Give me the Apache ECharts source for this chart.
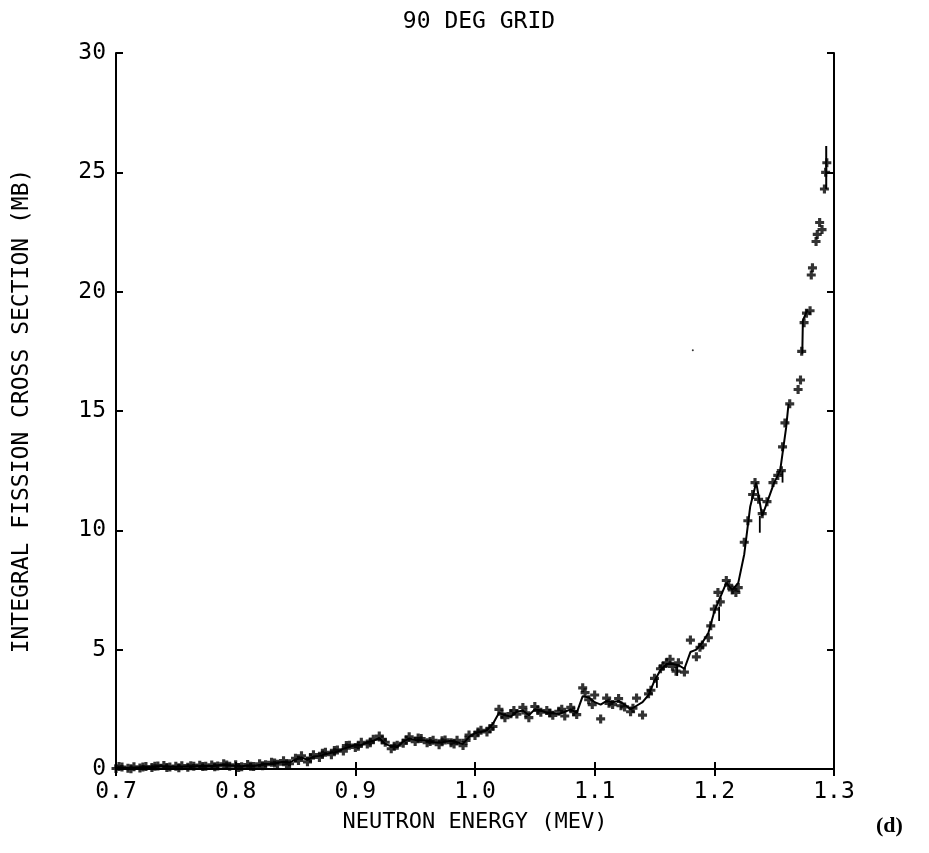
<!DOCTYPE html>
<html>
<head>
<meta charset="utf-8">
<script src="https://cdn.jsdelivr.net/npm/echarts@6/dist/echarts.min.js"></script>
<style>html,body{margin:0;padding:0;background:#fff}#c{width:929px;height:853px}</style>
</head>
<body>
<div id="c"></div>
<script>
const xTicks = ['0.7','0.8','0.9','1.0','1.1','1.2','1.3'];
const yTicks = [0,5,10,15,20,25,30];
const energies = [
0.700,0.705,0.710,0.715,0.720,0.725,0.730,0.735,0.740,0.745,
0.750,0.755,0.760,0.765,0.770,0.775,0.780,0.785,0.790,0.795,
0.800,0.805,0.810,0.815,0.820,0.825,0.830,0.835,0.840,0.845,
0.850,0.855,0.860,0.865,0.870,0.875,0.880,0.885,0.890,0.895,
0.900,0.905,0.910,0.915,0.920,0.925,0.930,0.935,0.940,0.945,
0.950,0.955,0.960,0.965,0.970,0.975,0.980,0.985,0.990,0.995,
1.000,1.005,1.010,1.015,1.020,1.025,1.030,1.035,1.040,1.045,
1.050,1.055,1.060,1.065,1.070,1.075,1.080,1.085,1.090,1.095,
1.100,1.105,1.110,1.115,1.120,1.125,1.130,1.135,1.140,1.145,
1.150,1.155,1.160,1.165,1.170,1.175,1.180,1.185,1.190,1.195,
1.200,1.205,1.210,1.215,1.220,1.225,1.230,1.235,1.240,1.245,
1.250,1.255,1.260];
const curve = [
0.05,0.05,0.04,0.06,0.05,0.07,0.08,0.10,0.12,0.10,
0.09,0.11,0.10,0.09,0.12,0.14,0.13,0.16,0.18,0.15,
0.14,0.12,0.15,0.13,0.17,0.22,0.20,0.26,0.30,0.27,
0.40,0.48,0.38,0.52,0.55,0.62,0.68,0.72,0.85,0.92,
1.02,1.00,1.12,1.18,1.30,1.05,0.95,0.92,1.15,1.28,
1.22,1.20,1.18,1.12,1.10,1.14,1.18,1.12,1.05,1.35,
1.50,1.55,1.62,1.90,2.35,2.25,2.20,2.40,2.45,2.25,
2.50,2.45,2.35,2.35,2.30,2.40,2.50,2.35,3.05,3.00,
2.80,2.70,2.85,2.80,2.85,2.70,2.50,2.65,2.80,3.10,
3.70,4.15,4.40,4.40,4.35,4.20,4.90,5.00,5.30,5.70,
6.60,7.20,7.80,7.50,7.80,9.00,11.0,12.0,10.6,11.3,
12.0,12.5,14.3];
// curve continuation (null = break in the drawn curve)
const curveTailE = [1.262, 1.268, 1.2735, 1.2740, 1.2775, 1.285, 1.2935, 1.2935];
const curveTailV = [15.3, null, 17.4, 18.8, 19.2, null, 24.3, 26.1];
// crosses for energies 0.700 ... 1.225
const crosses = [
0.02,0.08,0.03,0.09,0.04,0.10,0.06,0.13,0.15,0.08,
0.12,0.14,0.07,0.12,0.16,0.11,0.17,0.13,0.22,0.12,
0.18,0.09,0.19,0.10,0.22,0.18,0.28,0.20,0.35,0.22,
0.45,0.55,0.30,0.60,0.48,0.70,0.60,0.80,0.75,1.00,
0.90,1.12,1.05,1.25,1.38,1.12,0.85,1.00,1.08,1.35,
1.15,1.28,1.10,1.20,1.02,1.22,1.10,1.20,0.98,1.42,
1.40,1.62,1.55,1.78,2.50,2.15,2.32,2.30,2.58,2.15,
2.62,2.38,2.45,2.25,2.42,2.22,2.58,2.28,3.40,2.90,
3.10,2.10,2.97,2.70,2.95,2.60,2.40,2.97,2.26,3.15,
3.80,4.20,4.45,4.30,4.45,4.06,5.40,4.70,5.20,5.50,
6.70,7.00,7.90,7.50,7.60,9.50];
// crosses lying between the grid energies (dense lower band)
const midEnergies = [
0.7025,0.7125,0.7225,0.7325,0.7425,0.7525,0.7625,0.7725,0.7825,0.7925,
0.8025,0.8125,0.8225,0.8325,0.8425,0.8525,0.8625,0.8725,0.8825,0.8925,
0.9025,0.9125,0.9225,0.9325,0.9425,0.9525,0.9625,0.9725,0.9825,0.9925,
1.0025,1.0125,1.0225,1.0325,1.0425,1.0525,1.0625,1.0725,1.0825];
const midCrosses = [
0.10,0.01,0.08,0.12,0.06,0.05,0.14,0.10,0.09,0.17,
0.06,0.12,0.14,0.25,0.18,0.36,0.46,0.66,0.78,0.98,
0.95,1.10,1.22,0.95,1.20,1.30,1.15,1.18,1.05,1.20,
1.55,1.70,2.30,2.45,2.35,2.45,2.35,2.50,2.40];
const extraCrosses = [
[1.092,3.2],[1.098,2.7],[1.112,2.75],[1.122,2.65],[1.132,2.55],[1.147,3.3],
[1.157,4.3],[1.163,4.6],[1.168,4.1],[1.188,5.1],[1.197,6.0],[1.203,7.4],
[1.212,7.7],[1.218,7.4],
[1.228,10.4],[1.232,11.5],[1.234,12.0],[1.237,11.3],[1.240,10.7],[1.244,11.2],
[1.249,12.0],[1.253,12.3],[1.256,12.5],[1.257,13.5],[1.259,14.5],[1.263,15.3],
[1.270,15.9],[1.272,16.3],[1.273,17.5],[1.275,18.7],[1.277,19.1],[1.280,19.2],
[1.281,20.7],[1.282,21.0],[1.285,22.1],[1.286,22.4],[1.288,22.9],[1.290,22.6],
[1.292,24.3],[1.293,25.0],[1.294,25.4]];
const errorBars = [
[1.152,3.4,3.8],[1.169,3.9,4.4],[1.204,6.2,6.8],[1.238,9.9,10.6],[1.257,12.0,12.5]];
const strayDot = [[1.182,17.55]];

const curveData = energies.map((e,i)=>[e,curve[i]]).concat(curveTailE.map((e,i)=>[e,curveTailV[i]===null?'-':curveTailV[i]]));
const crossData = crosses.map((v,i)=>[energies[i],v])
  .concat(midCrosses.map((v,i)=>[midEnergies[i],v]))
  .concat(extraCrosses);

const plus = 'path://M-1.4,-4L1.4,-4L1.4,-1.4L4,-1.4L4,1.4L1.4,1.4L1.4,4L-1.4,4L-1.4,1.4L-4,1.4L-4,-1.4L-1.4,-1.4Z';
const mono = 'DejaVu Sans Mono';
const axisLine = {show:true, lineStyle:{color:'#000', width:2}};
const tick = {show:true, inside:true, length:7, lineStyle:{color:'#000', width:2}};

const chart = echarts.init(document.getElementById('c'), null, {renderer:'canvas'});
chart.setOption({
  backgroundColor:'#fff',
  animation:false,
  title:{text:'90 DEG GRID', left:474, textAlign:'center', top:6,
    textStyle:{fontFamily:mono, fontSize:23, fontWeight:'normal', color:'#000'}},
  grid:{left:116, right:95, top:53, bottom:84},
  xAxis:[
    {type:'value', min:0.7, max:1.3, interval:0.1, position:'bottom',
     name:'NEUTRON ENERGY (MEV)', nameLocation:'middle', nameGap:42,
     nameTextStyle:{fontFamily:mono, fontSize:22, color:'#000'},
     axisLine, axisTick:tick, splitLine:{show:false},
     axisLabel:{margin:12, fontFamily:mono, fontSize:23, color:'#000',
       formatter:v=>xTicks[Math.round((v-0.7)*10)]}},
    {type:'value', min:0.7, max:1.3, interval:0.1, position:'top',
     axisLine, axisTick:tick, splitLine:{show:false}, axisLabel:{show:false}}
  ],
  yAxis:[
    {type:'value', min:0, max:30, interval:5, position:'left',
     name:'INTEGRAL FISSION CROSS SECTION (MB)', nameLocation:'middle', nameGap:82, nameRotate:90,
     nameTextStyle:{fontFamily:mono, fontSize:23, color:'#000'},
     axisLine, axisTick:tick, splitLine:{show:false},
     axisLabel:{margin:10, fontFamily:mono, fontSize:23, color:'#000',
       formatter:v=>String(yTicks[Math.round(v/5)])}},
    {type:'value', min:0, max:30, interval:5, position:'right',
     axisLine, axisTick:tick, splitLine:{show:false}, axisLabel:{show:false}}
  ],
  series:[
    {type:'line', data:curveData, showSymbol:false, symbol:'none', connectNulls:false,
     lineStyle:{color:'#000', width:2}, z:3},
    {type:'scatter', data:crossData, symbol:plus, symbolSize:9,
     itemStyle:{color:'#000'}, z:4},
    {type:'scatter', data:strayDot, symbol:'circle', symbolSize:2, itemStyle:{color:'#000'}},
    {type:'custom', data:errorBars, z:3,
     renderItem:(params, api)=>{
       const p1 = api.coord([api.value(0), api.value(1)]);
       const p2 = api.coord([api.value(0), api.value(2)]);
       return {type:'line', shape:{x1:p1[0], y1:p1[1], x2:p2[0], y2:p2[1]},
               style:{stroke:'#000', lineWidth:1.8}};
     }}
  ],
  graphic:[
    {type:'text', left:876, top:815,
     style:{text:'(d)', font:'bold 22px "Liberation Serif", serif', fill:'#000'}}
  ]
});
</script>
</body>
</html>
